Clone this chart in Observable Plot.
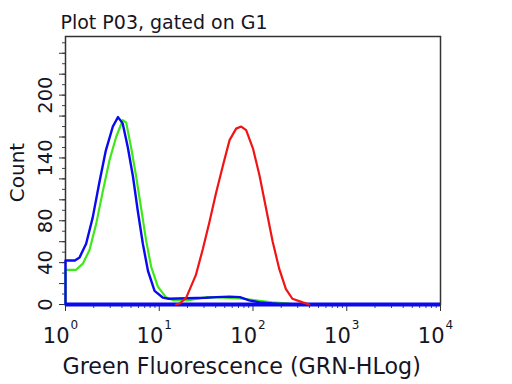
<!DOCTYPE html>
<html><head><meta charset="utf-8">
<script src="https://cdn.jsdelivr.net/npm/d3@7"></script>
<script src="https://cdn.jsdelivr.net/npm/@observablehq/plot@0.6"></script>
<style>body{margin:0;background:#fff} svg{display:block}</style>
</head><body><div id="chart"></div>
<script>
// Histogram outlines: x positions as log10(fluorescence), y as count
const blueLog   = [0, 0, 0.05, 0.10, 0.15, 0.22, 0.29, 0.36, 0.43, 0.505, 0.56, 0.61, 0.665, 0.72, 0.77, 0.825, 0.88, 0.95, 1.04, 1.10, 1.30, 1.50, 1.61, 1.75, 1.86, 1.96, 2.07, 2.20, 2.30];
const blueCount = [0, 42, 42, 42, 45, 58, 83, 116, 147, 170, 179, 173, 150, 122, 90, 58, 32, 13, 6.5, 5.5, 6, 6.5, 7, 7.5, 7, 4, 2, 1, 0];
const greenLog   = [0, 0, 0.05, 0.11, 0.185, 0.256, 0.327, 0.40, 0.47, 0.54, 0.61, 0.647, 0.70, 0.754, 0.81, 0.86, 0.914, 0.985, 1.07, 1.15, 1.30, 1.50, 1.70, 1.90, 2.03, 2.20, 2.36, 2.45];
const greenCount = [0, 33, 33, 33, 39, 52, 77, 109, 138, 160, 176, 174, 150, 122, 90, 61, 36, 17, 7, 4, 4, 7, 6.5, 5.5, 4, 2, 1, 0];
const redLog   = [1.18, 1.22, 1.29, 1.39, 1.465, 1.536, 1.607, 1.68, 1.75, 1.82, 1.874, 1.927, 2.00, 2.07, 2.14, 2.21, 2.28, 2.35, 2.42, 2.53, 2.60];
const redCount = [0, 1, 7, 28, 53, 79, 107, 133, 157, 168, 170, 166.5, 149, 123, 91.5, 60, 34, 15, 5.5, 2, 0];

const decades = [0, 1, 2, 3, 4];
const yTickLabels = [0, 40, 80, 140, 200];
const yMinorTicks = d3.range(0, 251, 10);
const yMajorTicks = d3.range(0, 241, 20);
const xMinorTicks = d3.range(0, 4).flatMap(e => [2,3,4,5,6,7,8,9].map(m => m * 10 ** e));
const title = "Plot P03, gated on G1";
const xLabel = "Green Fluorescence (GRN-HLog)";
const yLabel = "Count";

const toRows = (logs, counts) => logs.map((l, i) => ({x: 10 ** l, y: counts[i]}));
const blue = toRows(blueLog, blueCount);
const green = toRows(greenLog, greenCount);
const red = toRows(redLog, redCount);

const BLUE = "#0a0aee", GREEN = "#3fe81a", RED = "#f01414", INK = "#151525";

const plot = Plot.plot({
  width: 512, height: 384,
  marginLeft: 65, marginRight: 72, marginTop: 36, marginBottom: 80,
  style: {fontFamily: "DejaVu Sans", background: "white", color: INK, overflow: "visible"},
  x: {type: "log", domain: [1, 1e4]},
  y: {domain: [0, 256]},
  marks: [
    Plot.axisX({ticks: xMinorTicks, tickSize: 4, tickFormat: () => "", label: null, stroke: "#444"}),
    Plot.axisX({ticks: decades.map(d => 10 ** d), tickSize: 7, tickFormat: () => "", label: null, stroke: "#333"}),
    Plot.axisY({ticks: yMinorTicks, tickSize: 3, tickFormat: () => "", label: null, stroke: "#444"}),
    Plot.axisY({ticks: yMajorTicks, tickSize: 6, tickFormat: () => "", label: null, stroke: "#333"}),
    Plot.frame({stroke: "#333", strokeWidth: 1.5}),
    Plot.line(green, {x: "x", y: "y", stroke: GREEN, strokeWidth: 2.2}),
    Plot.ruleY([0], {stroke: BLUE, strokeWidth: 4}),
    Plot.line(blue, {x: "x", y: "y", stroke: BLUE, strokeWidth: 2.4}),
    Plot.line(red, {x: "x", y: "y", stroke: RED, strokeWidth: 2.2}),
    // x tick labels 10^n
    Plot.text(decades, {x: d => 10 ** d, text: () => "10", frameAnchor: "bottom", textAnchor: "end", lineAnchor: "middle", dx: 4, dy: 32, fontSize: 21, ariaLabel: "hstretch"}),
    Plot.text(decades, {x: d => 10 ** d, text: d => String(d), frameAnchor: "bottom", textAnchor: "start", lineAnchor: "middle", dx: 5, dy: 21, fontSize: 12, ariaLabel: "hstretch"}),
    // y tick labels
    Plot.text(yTickLabels, {y: d => d, text: d => String(d), frameAnchor: "left", rotate: -90, textAnchor: "middle", lineAnchor: "middle", dx: -19.5, fontSize: 19.5, ariaLabel: "vstretch"}),
    Plot.text([yLabel], {frameAnchor: "left", rotate: -90, textAnchor: "middle", lineAnchor: "middle", dx: -47.5, dy: 2, fontSize: 20, ariaLabel: "vstretch"}),
    Plot.text([title], {frameAnchor: "top-left", textAnchor: "start", lineAnchor: "middle", dx: -5, dy: -14, fontSize: 19, ariaLabel: "hstretch"}),
    Plot.text([xLabel], {frameAnchor: "bottom-left", textAnchor: "start", lineAnchor: "middle", dx: -3, dy: 62, fontSize: 22.2, ariaLabel: "hstretch"})
  ]
});

plot.querySelectorAll('g[aria-label="hstretch"] text').forEach(t => {
  t.setAttribute("transform", (t.getAttribute("transform") || "") + " scale(1,1.3)");
});
plot.querySelectorAll('g[aria-label="vstretch"] text').forEach(t => {
  t.setAttribute("transform", (t.getAttribute("transform") || "") + " scale(1.3,1)");
});
document.getElementById("chart").appendChild(plot);
</script>
</body></html>
